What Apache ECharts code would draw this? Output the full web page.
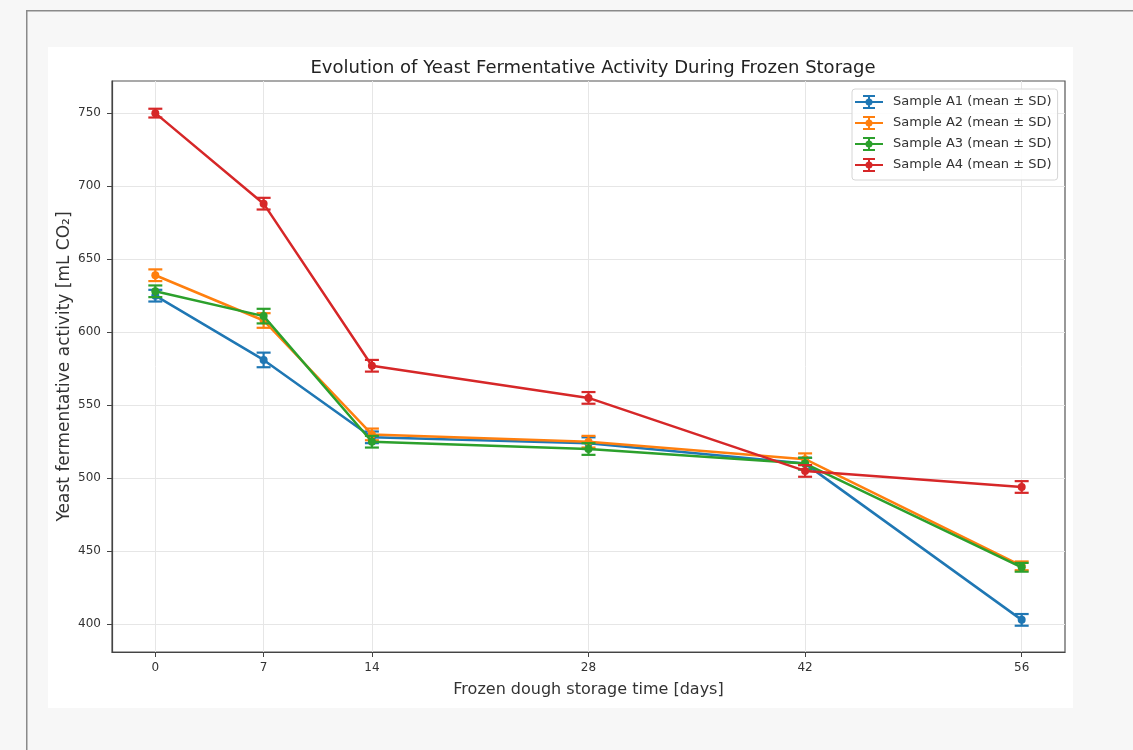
<!DOCTYPE html>
<html>
<head>
<meta charset="utf-8">
<script src="https://cdn.jsdelivr.net/npm/echarts@6/dist/echarts.min.js"></script>
<style>
  html, body { margin: 0; padding: 0; background: #f7f7f7; }
  #main { width: 1133px; height: 750px; }
</style>
</head>
<body>
<div id="main"></div>
<script>
var days = [0, 7, 14, 28, 42, 56];
var yTicks = [400, 450, 500, 550, 600, 650, 700, 750];

var names = ['Sample A1 (mean ± SD)', 'Sample A2 (mean ± SD)', 'Sample A3 (mean ± SD)', 'Sample A4 (mean ± SD)'];
var colors = ['#1f77b4', '#ff7f0e', '#2ca02c', '#d62728'];

var meanA1 = [625, 581, 528, 524, 510, 403];
var meanA2 = [639, 608, 530, 525, 513, 440];
var meanA3 = [628, 611, 525, 520, 510, 439];
var meanA4 = [750, 688, 577, 555, 505, 494];

var sdA1 = [4, 5, 4, 4, 4, 4];
var sdA2 = [4, 5, 4, 4, 4, 3];
var sdA3 = [4, 5, 4, 4, 4, 3];
var sdA4 = [3, 4, 4, 4, 4, 4];

var means = [meanA1, meanA2, meanA3, meanA4];
var sds = [sdA1, sdA2, sdA3, sdA4];

var chart = echarts.init(document.getElementById('main'));

var font = 'DejaVu Sans';
// errorbar-like legend icon: line, vertical bar with caps, round marker
var errIcon = 'path://M0,6h28v2h-28z M13,0h2v14h-2z M8,0h12v2h-12z M8,12h12v2h-12z M10.5,7a3.5,3.5 0 1,1 7,0a3.5,3.5 0 1,1 -7,0z';

function errorBars(color) {
    return function (params, api) {
        var x = api.value(0), y = api.value(1), e = api.value(2);
        var top = api.coord([x, y + e]);
        var bot = api.coord([x, y - e]);
        var hw = 7;
        var st = { stroke: color, lineWidth: 2.2 };
        return {
            type: 'group',
            children: [
                { type: 'line', shape: { x1: top[0], y1: top[1], x2: bot[0], y2: bot[1] }, style: st },
                { type: 'line', shape: { x1: top[0] - hw, y1: top[1], x2: top[0] + hw, y2: top[1] }, style: st },
                { type: 'line', shape: { x1: bot[0] - hw, y1: bot[1], x2: bot[0] + hw, y2: bot[1] }, style: st }
            ]
        };
    };
}

var series = [];
names.forEach(function (n, i) {
    series.push({
        name: n,
        type: 'line',
        data: days.map(function (d, j) { return [d, means[i][j]]; }),
        symbol: 'circle',
        symbolSize: 8,
        lineStyle: { color: colors[i], width: 2.5 },
        itemStyle: { color: colors[i] },
        z: 2 + i
    });
    series.push({
        name: n,
        type: 'custom',
        renderItem: errorBars(colors[i]),
        data: days.map(function (d, j) { return [d, means[i][j], sds[i][j]]; }),
        z: 2 + i
    });
});

var option = {
    animation: false,
    backgroundColor: '#f7f7f7',
    textStyle: { fontFamily: font },
    graphic: [
        { type: 'rect', left: 26, top: 10, shape: { width: 1200, height: 800 }, style: { fill: '#f7f7f7', stroke: '#8a8a8a', lineWidth: 1.5 }, z: -10 },
        { type: 'rect', left: 48, top: 47, shape: { width: 1025, height: 661 }, style: { fill: '#ffffff' }, z: -9 }
    ],
    title: {
        text: 'Evolution of Yeast Fermentative Activity During Frozen Storage',
        left: 588,
        textAlign: 'center',
        top: 54,
        textStyle: { fontFamily: font, fontSize: 18, fontWeight: 'normal', color: '#222' }
    },
    legend: {
        orient: 'vertical',
        left: 852,
        top: 89,
        itemWidth: 28,
        itemHeight: 14,
        itemGap: 7,
        padding: [6, 6, 8, 3],
        backgroundColor: 'rgba(255,255,255,0.85)',
        borderColor: '#d6d6d6',
        borderWidth: 1,
        borderRadius: 3,
        data: names.map(function (n, i) {
            return { name: n, icon: errIcon, itemStyle: { color: colors[i] } };
        }),
        textStyle: { fontFamily: font, fontSize: 13, color: '#333', padding: [0, 0, 0, 5] }
    },
    grid: {
        left: 112, top: 81, right: 68, bottom: 98,
        show: true, borderColor: '#555', borderWidth: 1.2, backgroundColor: '#fff'
    },
    xAxis: {
        type: 'value',
        min: -2.8,
        max: 58.8,
        name: 'Frozen dough storage time [days]',
        nameLocation: 'middle',
        nameGap: 30,
        nameMoveOverlap: false,
        nameTextStyle: { fontFamily: font, fontSize: 16, color: '#333' },
        axisLine: { show: true, onZero: false, lineStyle: { color: '#444', width: 1.2 } },
        axisTick: { show: true, length: 5, customValues: days, lineStyle: { color: '#444' } },
        axisLabel: { customValues: days, fontSize: 12, color: '#333', margin: 10 },
        splitLine: { show: true, lineStyle: { color: '#e6e6e6', width: 1 } }
    },
    yAxis: {
        type: 'value',
        min: 381,
        max: 772,
        name: 'Yeast fermentative activity [mL CO₂]',
        nameLocation: 'middle',
        nameGap: 39,
        nameMoveOverlap: false,
        nameTextStyle: { fontFamily: font, fontSize: 17, color: '#333' },
        axisLine: { show: true, onZero: false, lineStyle: { color: '#444', width: 1.2 } },
        axisTick: { show: true, length: 5, customValues: yTicks, lineStyle: { color: '#444' } },
        axisLabel: { customValues: yTicks, fontSize: 12, color: '#333', margin: 11 },
        splitLine: { show: true, lineStyle: { color: '#e6e6e6', width: 1 } }
    },
    series: series
};

chart.setOption(option);
</script>
</body>
</html>
